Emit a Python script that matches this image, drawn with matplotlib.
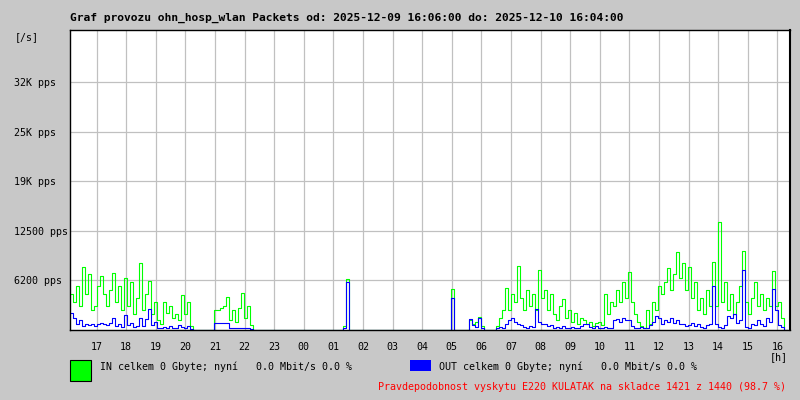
import numpy as np
import matplotlib.pyplot as plt
from matplotlib.patches import Rectangle

plt.rcParams['font.family'] = 'DejaVu Sans Mono'

# hodinove popisky (start grafu 16:06, 17:00 je 0.9 h od zacatku)
hour_labels = ['17', '18', '19', '20', '21', '22', '23', '00', '01', '02', '03', '04',
               '05', '06', '07', '08', '09', '10', '11', '12', '13', '14', '15', '16']
hour_pos = [0.9 + k for k in range(len(hour_labels))]

y_ticks = [6250, 12500, 18750, 25000, 31250]
y_labels = ['6200 pps', '12500 pps', '19K pps', '25K pps', '32K pps']

# vzorky zhruba po 6 minutach
step_h = 6.08 / 60
t = np.arange(240) * step_h

pkt_in = [
    4500, 3500, 5500, 3000, 8000, 4500, 7000, 2500, 3000, 5500,
    6800, 4500, 3000, 5000, 7200, 3500, 5500, 2500, 6500, 3000,
    6000, 2000, 4000, 8500, 2500, 4500, 6200, 2000, 3500, 1200,
    800, 3500, 2200, 3000, 1500, 2000, 1200, 4400, 2000, 3500,
    500, 0, 0, 0, 0, 0, 0, 0, 2500, 2500,
    2800, 3000, 4200, 1200, 2500, 1000, 2800, 4600, 1500, 3000,
    600, 0, 0, 0, 0, 0, 0, 0, 0, 0,
    0, 0, 0, 0, 0, 0, 0, 0, 0, 0,
    0, 0, 0, 0, 0, 0, 0, 0, 0, 0,
    0, 500, 6400, 0, 0, 0, 0, 0, 0, 0,
    0, 0, 0, 0, 0, 0, 0, 0, 0, 0,
    0, 0, 0, 0, 0, 0, 0, 0, 0, 0,
    0, 0, 0, 0, 0, 0, 0, 5200, 0, 0,
    0, 0, 0, 1200, 800, 1000, 1700, 500, 0, 0,
    0, 0, 500, 1500, 2500, 5300, 2500, 4500, 3500, 8100,
    4000, 2500, 5000, 3000, 4500, 2500, 7500, 4000, 5000, 2500,
    4500, 2000, 1200, 3000, 3900, 1500, 2500, 1000, 2200, 800,
    1500, 1200, 800, 1000, 500, 900, 1000, 600, 4500, 2000,
    3500, 3000, 5000, 3500, 6000, 4000, 7300, 3500, 2000, 1000,
    500, 300, 2500, 800, 3500, 2500, 5500, 4500, 6000, 7800,
    5000, 7000, 9800, 6500, 8500, 5000, 8000, 4000, 6000, 2500,
    4000, 2000, 5000, 3000, 8600, 3000, 13600, 3500, 6000, 2500,
    4500, 2000, 3500, 5500, 9900, 3500, 2000, 4000, 6000, 3000,
    4500, 2500, 4000, 3000, 7400, 3000, 3500, 1500, 0, 0,
]

pkt_out = [
    2200, 1500, 800, 1200, 500, 700, 600, 800, 500, 700,
    900, 800, 600, 900, 1500, 500, 700, 400, 1900, 600,
    900, 400, 500, 1500, 500, 1400, 2700, 600, 1000, 300,
    200, 400, 300, 500, 200, 300, 600, 400, 300, 500,
    100, 0, 0, 0, 0, 0, 0, 0, 900, 900,
    900, 900, 900, 300, 200, 200, 300, 200, 200, 200,
    100, 0, 0, 0, 0, 0, 0, 0, 0, 0,
    0, 0, 0, 0, 0, 0, 0, 0, 0, 0,
    0, 0, 0, 0, 0, 0, 0, 0, 0, 0,
    0, 200, 6000, 0, 0, 0, 0, 0, 0, 0,
    0, 0, 0, 0, 0, 0, 0, 0, 0, 0,
    0, 0, 0, 0, 0, 0, 0, 0, 0, 0,
    0, 0, 0, 0, 0, 0, 0, 4000, 0, 0,
    0, 0, 0, 1400, 600, 400, 1500, 300, 0, 0,
    0, 0, 200, 400, 300, 700, 1200, 1500, 1000, 800,
    600, 400, 300, 500, 400, 2700, 1000, 800, 700, 500,
    600, 300, 400, 200, 500, 300, 200, 400, 200, 300,
    500, 700, 800, 400, 300, 500, 200, 300, 400, 200,
    300, 1200, 1400, 1000, 1500, 1200, 1300, 500, 300, 200,
    400, 200, 300, 600, 1000, 1800, 1500, 800, 1200, 1000,
    1500, 900, 1200, 800, 700, 500, 600, 900, 500, 800,
    400, 300, 600, 800, 5600, 700, 400, 300, 600, 1800,
    1500, 2000, 900, 1200, 7500, 400, 300, 800, 600, 1200,
    800, 500, 1500, 1000, 5200, 2500, 600, 400, 0, 0,
]

title = 'Graf provozu ohn_hosp_wlan Packets od: 2025-12-09 16:06:00 do: 2025-12-10 16:04:00'
in_text = 'IN celkem 0 Gbyte; nyní   0.0 Mbit/s 0.0 %'
out_text = 'OUT celkem 0 Gbyte; nyní   0.0 Mbit/s 0.0 %'
note_text = 'Pravdepodobnost vyskytu E220 KULATAK na skladce 1421 z 1440 (98.7 %)'

W, H = 800, 400
fig = plt.figure(figsize=(8, 4), dpi=100, facecolor='#c8c8c8')
ax = fig.add_axes([70 / W, 70 / H, 720 / W, 300 / H])
ax.set_facecolor('white')

ax.step(t, pkt_in, where='post', color='#00ff00', lw=0.8, zorder=3)
ax.step(t, pkt_out, where='post', color='#0000ff', lw=0.8, zorder=4)

ax.set_xlim(0, 720 / 29.6)
ax.set_ylim(0, 37800)

ax.set_xticks(hour_pos)
ax.set_xticklabels(hour_labels, fontsize=7.2)
ax.set_yticks(y_ticks)
ax.set_yticklabels(y_labels, fontsize=7.2)
for lab in ax.get_yticklabels():
    lab.set_ha('left')
ax.tick_params(axis='y', length=0, pad=40.3)
ax.tick_params(axis='x', length=0, pad=8.5)
ax.grid(True, color='#c0c0c0', lw=0.9, zorder=1)
ax.set_axisbelow(True)

for side, sp in ax.spines.items():
    sp.set_color('black')
    sp.set_linewidth(1.0)
    sp.set_zorder(6)
ax.spines['right'].set_linewidth(1.5)

fig.text(70 / W, 1 - 18 / H, title, fontsize=8.1, weight='bold', ha='left', va='center')
fig.text(15 / W, 1 - 37 / H, '[/s]', fontsize=7.2, ha='left', va='center')
fig.text(779 / W, 1 - 357 / H, '[h]', fontsize=7.2, ha='center', va='center')

fig.patches.append(Rectangle((70 / W, 1 - 381 / H), 21 / W, 21 / H, transform=fig.transFigure,
                             facecolor='#00ff00', edgecolor='black', lw=0.8))
fig.patches.append(Rectangle((410 / W, 1 - 371 / H), 21 / W, 11 / H, transform=fig.transFigure,
                             facecolor='#0000ff', edgecolor='none'))
fig.text(100 / W, 1 - 367 / H, in_text, fontsize=7.2, ha='left', va='center')
fig.text(439 / W, 1 - 367 / H, out_text, fontsize=7.2, ha='left', va='center')
fig.text(786 / W, 1 - 387 / H, note_text, fontsize=7.2, color='red', ha='right', va='center')

plt.savefig('out.png', dpi=100, facecolor=fig.get_facecolor())
